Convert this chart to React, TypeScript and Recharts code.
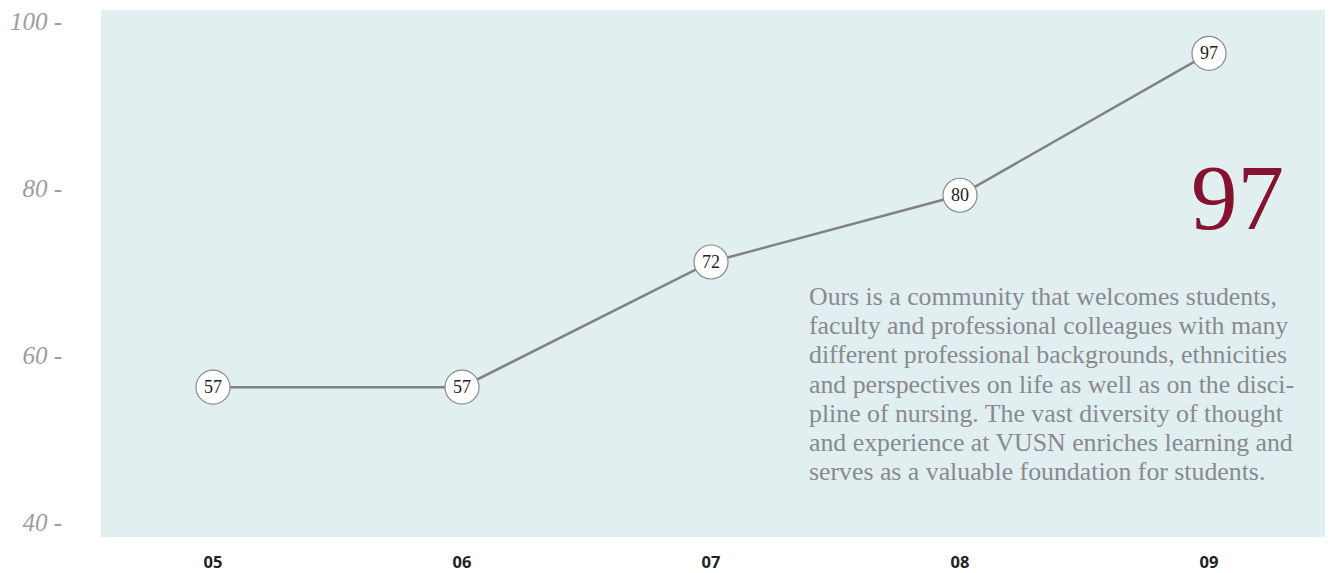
import React from "react";
import { LineChart, Line, XAxis, YAxis, CartesianGrid } from "recharts";

const years = ["05", "06", "07", "08", "09"];
const values = [57, 57, 72, 80, 97];
const yTicks = [40, 60, 80, 100];
const headline = "97";
const paragraphLines = [
  "Ours is a community that welcomes students,",
  "faculty and professional colleagues with many",
  "different professional backgrounds, ethnicities",
  "and perspectives on life as well as on the disci-",
  "pline of nursing. The vast diversity of thought",
  "and experience at VUSN enriches learning and",
  "serves as a valuable foundation for students.",
];

const data = years.map((y, i) => ({ year: y, value: values[i] }));

const SERIF = "'Liberation Serif', 'Times New Roman', serif";

const YTick = (props: any) => {
  const { y, payload } = props;
  return (
    <text
      x={62}
      y={y}
      dy={2}
      textAnchor="end"
      fontFamily={SERIF}
      fontStyle="italic"
      fontSize={25}
      fill="#9d9d9d"
    >
      {payload.value} -
    </text>
  );
};

const XTick = (props: any) => {
  const { x, payload } = props;
  return (
    <text
      x={x}
      y={568}
      textAnchor="middle"
      fontFamily="'Open Sans', sans-serif"
      fontWeight={700}
      fontSize={16.5}
      fill="#222"
    >
      {payload.value}
    </text>
  );
};

const Dot = (props: any) => {
  const { cx, cy, payload } = props;
  return (
    <g key={`d-${payload.year}`}>
      <circle cx={cx} cy={cy} r={17} fill="#fff" stroke="#8a8a8a" strokeWidth={1.2} />
      <text
        x={cx}
        y={cy}
        dy={6}
        textAnchor="middle"
        fontFamily={SERIF}
        fontSize={18}
        fill="#222"
      >
        {payload.value}
      </text>
    </g>
  );
};

export default function App() {
  return (
    <div style={{ position: "absolute", left: 0, top: 0, width: 1331, height: 573 }}>
      <LineChart
        width={1331}
        height={573}
        data={data}
        margin={{ top: 10, right: 6, bottom: 0, left: 0 }}
      >
        <CartesianGrid horizontal={false} vertical={false} fill="#e1eff1" stroke="none" />
        <XAxis
          dataKey="year"
          axisLine={false}
          tickLine={false}
          height={36}
          padding={{ left: 112, right: 116 }}
          tick={<XTick />}
          interval={0}
        />
        <YAxis
          width={101}
          domain={[39.04, 102.2]}
          ticks={yTicks}
          axisLine={false}
          tickLine={false}
          tick={<YTick />}
          allowDataOverflow
        />
        <Line
          dataKey="value"
          stroke="#808285"
          strokeWidth={2.5}
          dot={<Dot />}
          activeDot={false}
          isAnimationActive={false}
        />
      </LineChart>
      <div
        style={{
          position: "absolute",
          right: 1331 - 1284,
          top: 151,
          fontFamily: SERIF,
          fontSize: 93,
          lineHeight: "93px",
          color: "#85122f",
        }}
      >
        {headline}
      </div>
      <div
        style={{
          position: "absolute",
          left: 809,
          top: 282,
          fontFamily: SERIF,
          fontSize: 25.8,
          lineHeight: "29.2px",
          color: "#888a8d",
          whiteSpace: "nowrap",
        }}
      >
        {paragraphLines.map((l, i) => (
          <div key={i}>{l}</div>
        ))}
      </div>
    </div>
  );
}
